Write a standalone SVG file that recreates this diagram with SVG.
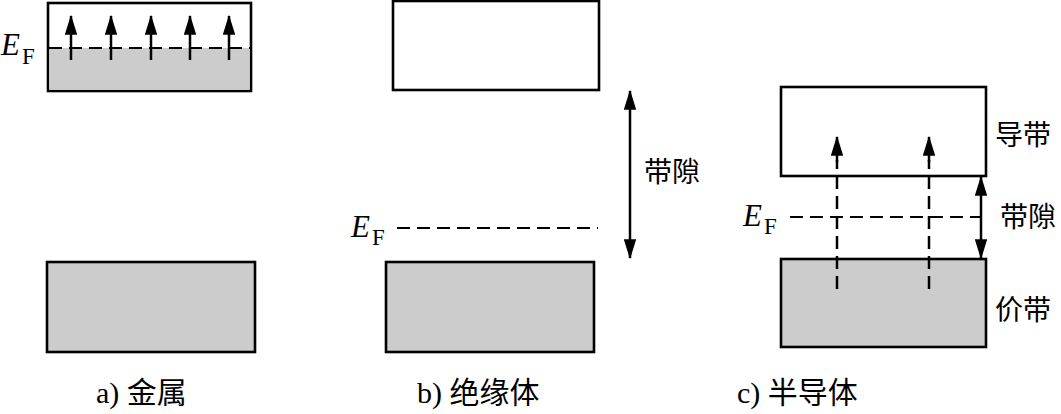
<svg xmlns="http://www.w3.org/2000/svg" width="1061" height="414" viewBox="0 0 1061 414">
<defs>
<style>
.box{stroke:#000;stroke-width:2.6;fill:#fff}
.fill{fill:#cccccc}
.dash{stroke:#000;stroke-width:2;stroke-dasharray:13,7;fill:none}
.vdash{stroke:#000;stroke-width:2.5;stroke-dasharray:13,7;fill:none}
.ln{stroke:#000;stroke-width:2.5;fill:none}
.e{font-family:"Liberation Serif",serif;font-style:italic;font-size:31px}
.sub{font-family:"Liberation Serif",serif;font-size:23px}
.cap{font-family:"Liberation Serif","Noto Sans CJK SC",serif;font-size:30px}
.cjk{font-family:"Noto Sans CJK SC",sans-serif;font-size:28px}
</style>
<marker id="ah" viewBox="0 0 16 10" refX="15" refY="5" markerWidth="8" markerHeight="5" orient="auto-start-reverse" markerUnits="strokeWidth">
<path d="M0,0 L16,5 L0,10 z" fill="#000"/>
</marker>
</defs>

<g id="metal-top">
<rect class="box" x="48" y="3" width="203" height="88"/>
<rect class="fill" x="49.3" y="48" width="200.4" height="41.7"/>
<line class="dash" x1="49" y1="48" x2="250" y2="48"/>
</g>
<g id="metal-bottom">
<rect class="box" x="47" y="262" width="208" height="90" style="fill:#cccccc"/>
</g>
<g id="metal-ef">
<text class="e" x="1" y="55">E</text><text class="sub" x="22" y="64">F</text>
</g>
<g id="metal-label"><text class="cap" x="96" y="403">a) 金属</text></g>

<g id="ins-top"><rect class="box" x="393" y="1" width="206" height="89"/></g>
<g id="ins-bottom"><rect class="box" x="386" y="262" width="208" height="90" style="fill:#cccccc"/></g>
<g id="ins-ef">
<text class="e" x="351" y="237">E</text><text class="sub" x="372" y="245">F</text>
</g>
<g id="ins-gap-label"><text class="cjk" x="644" y="182">带隙</text></g>
<g id="ins-label"><text class="cap" x="417" y="403">b) 绝缘体</text></g>

<g id="semi-top"><rect class="box" x="781" y="87" width="205" height="89"/></g>
<g id="semi-bottom"><rect class="box" x="781" y="259" width="205" height="88" style="fill:#cccccc"/></g>
<g id="semi-ef">
<text class="e" x="743" y="226">E</text><text class="sub" x="764" y="234">F</text>
</g>
<g id="semi-cb-label"><text class="cjk" x="995" y="145">导带</text></g>
<g id="semi-gap-label"><text class="cjk" x="1000" y="227">带隙</text></g>
<g id="semi-vb-label"><text class="cjk" x="995" y="320">价带</text></g>
<g id="semi-label"><text class="cap" x="737" y="403">c) 半导体</text></g>

<g id="connectors">
<line class="ln" x1="71" y1="60" x2="71" y2="16" marker-end="url(#ah)"/>
<line class="ln" x1="111" y1="60" x2="111" y2="16" marker-end="url(#ah)"/>
<line class="ln" x1="151" y1="60" x2="151" y2="16" marker-end="url(#ah)"/>
<line class="ln" x1="190" y1="60" x2="190" y2="16" marker-end="url(#ah)"/>
<line class="ln" x1="229" y1="60" x2="229" y2="16" marker-end="url(#ah)"/>
<line class="dash" x1="397" y1="228" x2="598" y2="228"/>
<line class="ln" x1="630" y1="91" x2="630" y2="258" marker-start="url(#ah)" marker-end="url(#ah)"/>
<line class="dash" x1="790" y1="217" x2="980" y2="217"/>
<line class="ln" x1="981" y1="177" x2="981" y2="258" marker-start="url(#ah)" marker-end="url(#ah)"/>
<line class="vdash" x1="837" y1="289" x2="837" y2="160"/>
<line class="ln" x1="837" y1="162" x2="837" y2="137" marker-end="url(#ah)"/>
<line class="vdash" x1="929" y1="289" x2="929" y2="160"/>
<line class="ln" x1="929" y1="162" x2="929" y2="137" marker-end="url(#ah)"/>
</g>
</svg>
